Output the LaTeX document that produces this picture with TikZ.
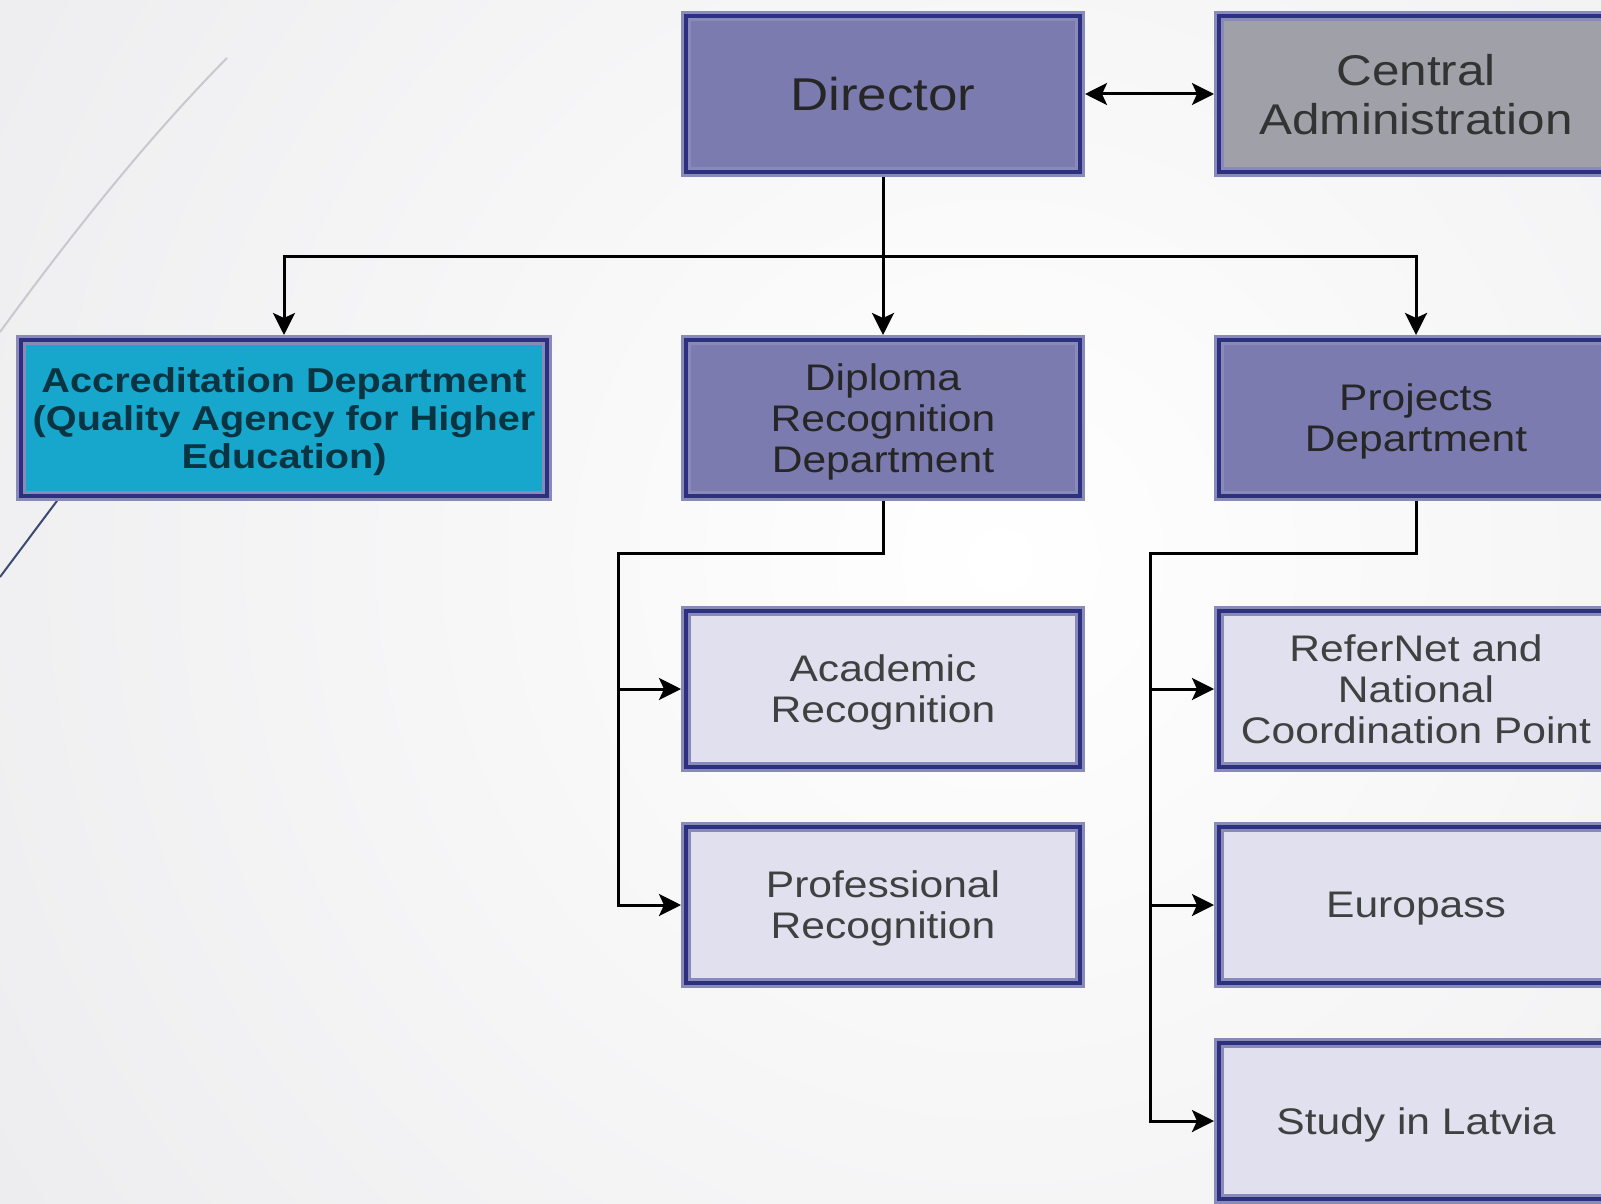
\documentclass[tikz,border=0pt]{standalone}
\usepackage{fontspec}
\setmainfont{Liberation Sans}
\newfontfamily\boxfont[FakeStretch=1.15]{Liberation Sans}
\usetikzlibrary{arrows.meta}
\definecolor{bgedge}{HTML}{DCDCE0}
\definecolor{lav}{HTML}{8A8AB8}
\definecolor{navy}{HTML}{2C3080}
\definecolor{purp}{HTML}{7B7BB0}
\definecolor{grayfill}{HTML}{A0A0A8}
\definecolor{cyanfill}{HTML}{17A6CC}
\definecolor{pale}{HTML}{E0E0EE}
\definecolor{arcgray}{HTML}{C8C8CE}
\definecolor{arcnavy}{HTML}{3A4A70}
\definecolor{accText}{HTML}{0A3442}
\begin{document}
\begin{tikzpicture}[x=1pt,y=-1pt,
  box/.style={draw=lav, line width=10pt, postaction={draw=navy, line width=4pt},
    minimum width=394pt, minimum height=156pt, inner sep=0pt, align=center,
    text depth=0pt,
    font=\boxfont\fontsize{37}{41}\selectfont, text=black!80},
  mainbox/.style={box, fill=purp, text=black!85},
  subbox/.style={box, fill=pale, text=black!75},
  conn/.style={line width=3pt, black},
  tip/.style={-{Stealth[length=22pt,width=22pt,inset=5pt]}},
  tips/.style={{Stealth[length=22pt,width=22pt,inset=5pt]}-{Stealth[length=22pt,width=22pt,inset=5pt]}}
]
% background
\path[use as bounding box] (0,0) rectangle (1601,1204);
\begin{scope}
\clip (0,0) rectangle (1601,1204);
\fill[bgedge] (0,0) rectangle (1601,1204);
\shade[inner color=white, outer color=bgedge] (1000,560) circle (2300);
\draw[arcgray, line width=2pt] (0,332) .. controls (70,236) and (146,140) .. (227,58);
\draw[arcnavy, line width=2pt] (0,577) -- (110,430);
\end{scope}

% nodes
\node[mainbox, font=\boxfont\fontsize{46}{50}\selectfont] (dir) at (883,94) {Director};
\node[box, fill=grayfill, text=black!80, font=\boxfont\fontsize{43}{49}\selectfont] (cen) at (1416,94) {Central\\Administration};
\node[box, fill=cyanfill, text=accText, minimum width=526pt,
      font=\boxfont\bfseries\fontsize{34.5}{38}\selectfont] (acc) at (284,418)
      {Accreditation Department\\(Quality Agency for Higher\\Education)};
\node[mainbox] (dip) at (883,418) {Diploma\\Recognition\\Department};
\node[mainbox] (proj) at (1416,418) {Projects\\Department};
\node[subbox] (aca) at (883,689) {Academic\\Recognition};
\node[subbox] (pro) at (883,905) {Professional\\Recognition};
\node[subbox] (ref) at (1416,689) {ReferNet and\\National\\Coordination Point};
\node[subbox] (eur) at (1416,905) {Europass};
\node[subbox] (stu) at (1416,1121) {Study in Latvia};

% coordinates for buses
\coordinate (topbus) at (883,256);
\coordinate (dbus) at (618,553);
\coordinate (pbus) at (1150,553);

% connectors
\draw[conn, tips] (dir.east) -- (cen.west);
\draw[conn, tip] (dir.south) -- (dip.north);
\draw[conn, tip] (dir.south) |- (topbus) -| (acc.north);
\draw[conn, tip] (dir.south) |- (topbus) -| (proj.north);

\draw[conn, tip] (dip.south) |- (dbus) |- (pro.west);
\draw[conn, tip] (dbus |- aca.west) -- (aca.west);

\draw[conn, tip] (proj.south) |- (pbus) |- (stu.west);
\draw[conn, tip] (pbus |- ref.west) -- (ref.west);
\draw[conn, tip] (pbus |- eur.west) -- (eur.west);
\end{tikzpicture}
\end{document}
